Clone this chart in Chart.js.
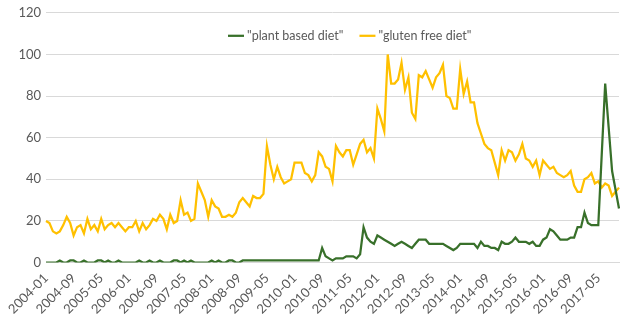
<!DOCTYPE html>
<html>
<head>
<meta charset="utf-8">
<script src="https://cdn.jsdelivr.net/npm/chart.js@4/dist/chart.umd.min.js"></script>
<style>
  body { margin: 0; background: #fff; }
  #trends { display: block; }
</style>
</head>
<body>
<canvas id="trends" width="639" height="327"></canvas>
<script>
// monthly search interest, Jan 2004 to Nov 2017
var startYear = 2004;
var monthCount = 167;

var shownTicks = ['2004-01', '2004-09', '2005-05', '2006-01', '2006-09', '2007-05',
	'2008-01', '2008-09', '2009-05', '2010-01', '2010-09', '2011-05', '2012-01',
	'2012-09', '2013-05', '2014-01', '2014-09', '2015-05', '2016-01', '2016-09', '2017-05'];

var plantBased = [
	0, 0, 0, 0, 1, 0, 0, 1, 1, 0, 0, 1, 0, 0, 0, 1, 1, 0, 1, 0,
	0, 1, 0, 0, 0, 0, 0, 1, 0, 0, 1, 0, 0, 1, 0, 0, 0, 1, 1, 0,
	1, 0, 1, 0, 0, 0, 0, 0, 1, 0, 1, 0, 0, 1, 1, 0, 0, 1, 1, 1,
	1, 1, 1, 1, 1, 1, 1, 1, 1, 1, 1, 1, 1, 1, 1, 1, 1, 1, 1, 1,
	7, 3, 2, 1, 2, 2, 2, 3, 3, 3, 2, 4, 17, 12, 10, 9, 13, 12, 11, 10,
	9, 8, 9, 10, 9, 8, 7, 9, 11, 11, 11, 9, 9, 9, 9, 9, 8, 7, 6, 7,
	9, 9, 9, 9, 9, 7, 10, 8, 8, 7, 7, 6, 10, 9, 9, 10, 12, 10, 10, 10,
	9, 10, 8, 8, 11, 12, 16, 15, 13, 11, 11, 11, 12, 12, 17, 17, 24, 19, 18, 18,
	18, 52, 86, 65, 44, 35, 26
];

var glutenFree = [
	20, 19, 15, 14, 15, 18, 22, 19, 13, 17, 18, 14, 21, 16, 18, 15, 21, 16, 18, 19,
	17, 19, 17, 15, 17, 17, 20, 15, 19, 16, 18, 21, 20, 23, 21, 16, 23, 19, 20, 30,
	23, 24, 20, 21, 38, 34, 30, 22, 30, 27, 26, 22, 22, 23, 22, 24, 29, 31, 29, 27,
	32, 31, 31, 33, 56, 47, 40, 46, 41, 38, 39, 40, 48, 48, 48, 43, 42, 39, 42, 53,
	51, 46, 45, 39, 56, 53, 51, 54, 54, 47, 52, 57, 59, 53, 55, 50, 74, 69, 63, 100,
	86, 86, 88, 96, 83, 89, 72, 69, 90, 89, 92, 88, 84, 89, 91, 95, 80, 79, 74, 74,
	93, 81, 87, 77, 77, 67, 62, 57, 55, 54, 48, 42, 54, 49, 54, 53, 49, 52, 57, 50,
	49, 46, 49, 42, 49, 47, 45, 46, 43, 42, 41, 42, 44, 37, 34, 34, 40, 41, 43, 38,
	39, 36, 38, 37, 32, 34, 36
];

var months = [];
for (var i = 0; i < monthCount; i++) {
	var y = startYear + Math.floor(i / 12);
	var m = (i % 12) + 1;
	months.push(y + '-' + (m < 10 ? '0' + m : m));
}

var textColor = '#595959';
var fontFace = 'Lato, "Liberation Sans", sans-serif';

// legend sits inside the plot, between the top two gridlines
var inlineLegend = {
	id: 'inlineLegend',
	afterDraw: function(chart) {
		var c = chart.ctx;
		var x = chart.chartArea.left + 182;
		var y = chart.chartArea.top + 23;
		c.save();
		c.font = '12.5px ' + fontFace;
		c.textBaseline = 'middle';
		chart.data.datasets.forEach(function(ds) {
			c.strokeStyle = ds.borderColor;
			c.lineWidth = ds.borderWidth;
			c.beginPath();
			c.moveTo(x, y);
			c.lineTo(x + 16, y);
			c.stroke();
			x += 19;
			c.fillStyle = textColor;
			c.fillText(ds.label, x, y);
			x += c.measureText(ds.label).width + 16;
		});
		c.restore();
	}
};

var chartdata = {
	labels: months,
	datasets: [
		{
			label: '"plant based diet"',
			data: plantBased,
			borderColor: '#38702a',
			backgroundColor: '#38702a',
			borderWidth: 2.25,
			pointRadius: 0,
			tension: 0,
			fill: false
		},
		{
			label: '"gluten free diet"',
			data: glutenFree,
			borderColor: '#ffc000',
			backgroundColor: '#ffc000',
			borderWidth: 2.25,
			pointRadius: 0,
			tension: 0,
			fill: false
		}
	]
};

var ctx = document.getElementById('trends');

var trendChart = new Chart(ctx, {
	type: 'line',
	data: chartdata,
	plugins: [inlineLegend],
	options: {
		responsive: false,
		animation: false,
		layout: {
			padding: { top: -2, right: 20, left: 0, bottom: 2 }
		},
		plugins: {
			tooltip: { enabled: false },
			legend: { display: false }
		},
		scales: {
			x: {
				offset: false,
				grid: { display: false, drawTicks: false },
				border: { display: true, color: '#d9d9d9' },
				ticks: {
					autoSkip: false,
					minRotation: 45,
					maxRotation: 45,
					padding: 8,
					color: textColor,
					font: { family: fontFace, size: 13 },
					callback: function(value, index) {
						var lbl = months[index];
						return shownTicks.indexOf(lbl) >= 0 ? lbl : '';
					}
				}
			},
			y: {
				min: 0,
				max: 120,
				afterFit: function(scale) { scale.width = 46; },
				grid: { color: '#d9d9d9', lineWidth: 1, drawTicks: false },
				border: { display: false },
				ticks: {
					stepSize: 20,
					padding: 5,
					color: textColor,
					font: { family: fontFace, size: 13 }
				}
			}
		}
	}
});
</script>
</body>
</html>
